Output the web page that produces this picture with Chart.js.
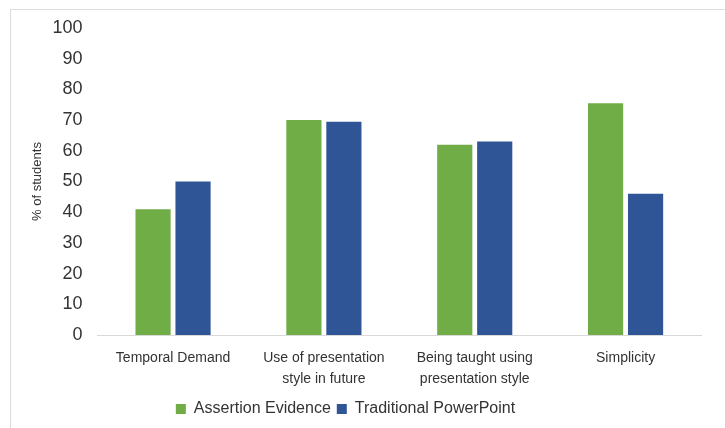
<!DOCTYPE html>
<html>
<head>
<meta charset="utf-8">
<script src="https://cdn.jsdelivr.net/npm/chart.js@4"></script>
<style>
  html, body { margin: 0; padding: 0; background: #fff; }
  #frame {
    position: absolute; left: 10px; top: 9px; width: 715px; height: 419px;
    border-top: 1px solid #dcdcdc; border-left: 1px solid #dcdcdc;
    box-sizing: border-box;
  }
  #wrap { position: absolute; left: 0; top: 0; width: 725px; height: 428px; }
</style>
</head>
<body>
<div id="frame"></div>
<div id="wrap"><canvas id="chart"></canvas></div>
<script>
const categories = [
  'Temporal Demand',
  ['Use of presentation', 'style in future'],
  ['Being taught using', 'presentation style'],
  'Simplicity',
];
const assertionEvidence = [41, 70, 62, 75.5];
const traditionalPowerPoint = [50, 69.5, 63, 46];
const yTicks = [0, 10, 20, 30, 40, 50, 60, 70, 80, 90, 100];

// legend in the original sits a little left of the chart centre
const legendShift = {
  id: 'legendShift',
  afterLayout: chart => {
    chart.legend.left -= 20;
    chart.legend.right -= 20;
  },
};

const ctx = document.getElementById('chart').getContext('2d');
const chart = new Chart(ctx, {
  type: 'bar',
  data: {
    labels: categories,
    datasets: [
      {
        label: 'Assertion Evidence',
        backgroundColor: '#70ad47',
        data: assertionEvidence,
      },
      {
        label: 'Traditional PowerPoint',
        backgroundColor: '#2f5597',
        data: traditionalPowerPoint,
      },
    ],
  },
  plugins: [legendShift],
  options: {
    responsive: true,
    maintainAspectRatio: false,
    animation: false,
    datasets: {
      bar: { categoryPercentage: 0.53, barPercentage: 0.88 },
    },
    layout: { padding: { left: 30, right: 24, top: 28, bottom: 1 } },
    plugins: {
      tooltip: { enabled: false },
      legend: {
        position: 'bottom',
        labels: {
          boxWidth: 10,
          boxHeight: 10,
          padding: 6,
          color: '#333',
          font: { family: 'Liberation Sans', size: 16 },
        },
      },
    },
    scales: {
      x: {
        grid: { display: false },
        border: { color: '#d9d9d9', width: 1 },
        ticks: {
          color: '#333',
          maxRotation: 0,
          autoSkip: false,
          padding: 5,
          font: { family: 'Liberation Sans', size: 14, lineHeight: 1.5 },
        },
      },
      y: {
        min: 0,
        max: 100,
        afterBuildTicks: axis => {
          axis.ticks = yTicks.map(v => ({ value: v }));
        },
        grid: { display: false },
        border: { display: false },
        title: {
          display: true,
          text: '% of students',
          color: '#333',
          padding: { top: 0, bottom: 0 },
          font: { family: 'Liberation Sans', size: 13 },
        },
        ticks: {
          color: '#333',
          padding: 7,
          font: { family: 'Liberation Sans', size: 18 },
        },
      },
    },
  },
});
</script>
</body>
</html>
